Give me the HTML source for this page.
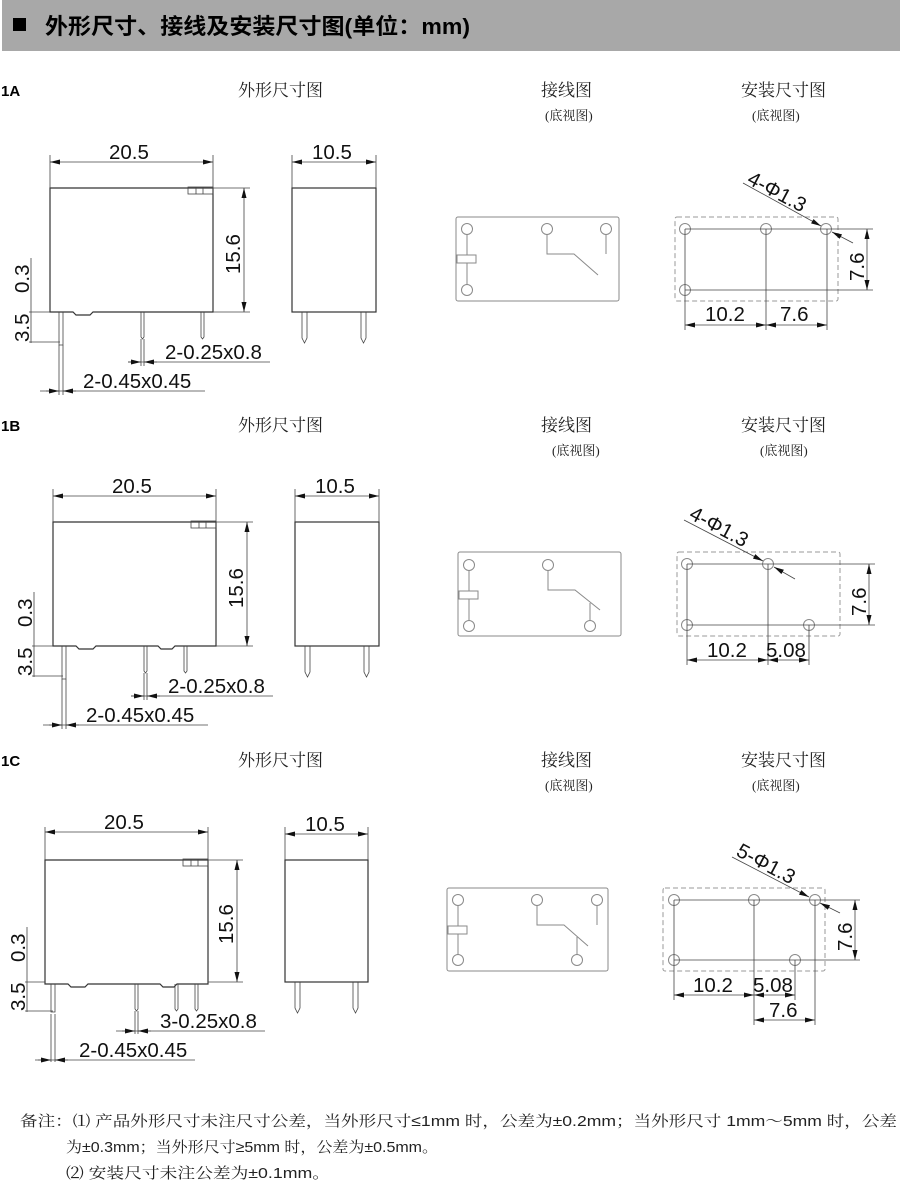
<!DOCTYPE html>
<html><head><meta charset="utf-8"><style>
html,body{margin:0;padding:0;background:#fff;}
svg{display:block;}
.d{font-family:"Liberation Sans",sans-serif;font-size:20.5px;fill:#111;}
.c{font-family:"Liberation Serif","Noto Serif CJK SC",serif;font-size:17px;fill:#222;}
.s{font-family:"Liberation Serif","Noto Serif CJK SC",serif;font-size:13px;fill:#222;}
.n{font-family:"Liberation Sans","Noto Serif CJK SC",serif;font-size:15px;fill:#222;}
.b{fill:none;stroke:#333;stroke-width:1.2;}
.l{fill:none;stroke:#444;stroke-width:0.8;}
.w{fill:none;stroke:#8a8a8a;stroke-width:1;}
.dash{fill:none;stroke:#999;stroke-width:1;stroke-dasharray:5,3;}
</style></head><body>
<svg width="900" height="1180" viewBox="0 0 900 1180" xmlns="http://www.w3.org/2000/svg">
<defs>
<marker id="a" markerUnits="userSpaceOnUse" markerWidth="10" markerHeight="6" refX="10" refY="3" orient="auto-start-reverse"><path d="M0,0.5 L10,3 L0,5.5 z" fill="#111"/></marker>
</defs>
<rect x="2" y="0" width="898" height="51" fill="#a8a8a8"/>
<rect x="13" y="18" width="13" height="13" fill="#000"/>
<text x="45" y="34" textLength="425" lengthAdjust="spacingAndGlyphs" style="font-family:'Liberation Sans','Noto Sans CJK SC',sans-serif;font-size:22px;font-weight:bold;fill:#000">外形尺寸、接线及安装尺寸图(单位：mm)</text>

<g style="font-family:'Liberation Sans',sans-serif;font-weight:bold;font-size:15px;fill:#000">
<text x="1" y="96">1A</text><text x="1" y="431">1B</text><text x="1" y="766">1C</text></g>
<g class="c">
<text x="238" y="96">外形尺寸图</text><text x="541" y="96">接线图</text><text x="741" y="96">安装尺寸图</text>
<text x="238" y="431">外形尺寸图</text><text x="541" y="431">接线图</text><text x="741" y="431">安装尺寸图</text>
<text x="238" y="766">外形尺寸图</text><text x="541" y="766">接线图</text><text x="741" y="766">安装尺寸图</text>
</g>
<g class="s">
<text x="545" y="120">(底视图)</text><text x="752" y="120">(底视图)</text>
<text x="552" y="455">(底视图)</text><text x="760" y="455">(底视图)</text>
<text x="545" y="790">(底视图)</text><text x="752" y="790">(底视图)</text>
</g>

<!-- ===== 1A outline ===== -->
<g>
<path class="b" d="M50,188 H213 V312 H93 L90,315 H76 L73,312 H50 Z"/>
<rect class="l" x="188" y="187" width="25" height="7"/><line class="l" x1="196" y1="187" x2="196" y2="194"/><line class="l" x1="203" y1="187" x2="203" y2="194"/>
<path class="l" d="M59,312 V345 H63 V312"/><line class="l" x1="59" y1="345" x2="59" y2="395"/><line class="l" x1="63" y1="345" x2="63" y2="395"/>
<path class="l" d="M141,312 V337 L142.5,339 L144,337 V312"/><line class="l" x1="141" y1="339" x2="141" y2="366"/><line class="l" x1="144" y1="339" x2="144" y2="366"/>
<path class="l" d="M201,312 V337 L202.5,339 L204,337 V312"/>
<line class="l" x1="50" y1="155" x2="50" y2="188"/><line class="l" x1="213" y1="155" x2="213" y2="188"/>
<line class="l" x1="50" y1="162" x2="213" y2="162" marker-start="url(#a)" marker-end="url(#a)"/>
<text class="d" x="109" y="159">20.5</text>
<line class="l" x1="213" y1="188" x2="250" y2="188"/><line class="l" x1="213" y1="312" x2="250" y2="312"/>
<line class="l" x1="244" y1="188" x2="244" y2="312" marker-start="url(#a)" marker-end="url(#a)"/>
<text class="d" transform="translate(240,274) rotate(-90)">15.6</text>
<line class="l" x1="31" y1="258" x2="31" y2="343"/><line class="l" x1="29" y1="312" x2="50" y2="312"/><line class="l" x1="29" y1="342" x2="60" y2="342"/>
<text class="d" transform="translate(29,293) rotate(-90)">0.3</text>
<text class="d" transform="translate(29,342) rotate(-90)">3.5</text>
<line class="l" x1="128" y1="362" x2="270" y2="362"/><line class="l" x1="128" y1="362" x2="141" y2="362" marker-end="url(#a)"/><line class="l" x1="157" y1="362" x2="144" y2="362" marker-end="url(#a)"/>
<text class="d" x="165" y="359">2-0.25x0.8</text>
<line class="l" x1="40" y1="391" x2="205" y2="391"/><line class="l" x1="46" y1="391" x2="59" y2="391" marker-end="url(#a)"/><line class="l" x1="76" y1="391" x2="63" y2="391" marker-end="url(#a)"/>
<text class="d" x="83" y="388">2-0.45x0.45</text>
<rect class="b" x="292" y="188" width="84" height="124"/>
<path class="l" d="M302,312 V338 L304.5,343 L307,338 V312"/><path class="l" d="M361,312 V338 L363.5,343 L366,338 V312"/>
<line class="l" x1="292" y1="155" x2="292" y2="188"/><line class="l" x1="376" y1="155" x2="376" y2="188"/>
<line class="l" x1="292" y1="162" x2="376" y2="162" marker-start="url(#a)" marker-end="url(#a)"/>
<text class="d" x="312" y="159">10.5</text>
</g>

<!-- ===== 1B outline ===== -->
<g transform="translate(3,334)">
<path class="b" d="M50,188 H213 V312 H172 L169,315 H158 L155,312 H93 L90,315 H76 L73,312 H50 Z"/>
<rect class="l" x="188" y="187" width="25" height="7"/><line class="l" x1="196" y1="187" x2="196" y2="194"/><line class="l" x1="203" y1="187" x2="203" y2="194"/>
<path class="l" d="M59,312 V345 H63 V312"/><line class="l" x1="59" y1="345" x2="59" y2="395"/><line class="l" x1="63" y1="345" x2="63" y2="395"/>
<path class="l" d="M141,312 V337 L142.5,339 L144,337 V312"/><line class="l" x1="141" y1="339" x2="141" y2="366"/><line class="l" x1="144" y1="339" x2="144" y2="366"/>
<path class="l" d="M181,312 V337 L182.5,339 L184,337 V312"/>
<line class="l" x1="50" y1="155" x2="50" y2="188"/><line class="l" x1="213" y1="155" x2="213" y2="188"/>
<line class="l" x1="50" y1="162" x2="213" y2="162" marker-start="url(#a)" marker-end="url(#a)"/>
<text class="d" x="109" y="159">20.5</text>
<line class="l" x1="213" y1="188" x2="250" y2="188"/><line class="l" x1="213" y1="312" x2="250" y2="312"/>
<line class="l" x1="244" y1="188" x2="244" y2="312" marker-start="url(#a)" marker-end="url(#a)"/>
<text class="d" transform="translate(240,274) rotate(-90)">15.6</text>
<line class="l" x1="31" y1="258" x2="31" y2="343"/><line class="l" x1="29" y1="312" x2="50" y2="312"/><line class="l" x1="29" y1="342" x2="60" y2="342"/>
<text class="d" transform="translate(29,293) rotate(-90)">0.3</text>
<text class="d" transform="translate(29,342) rotate(-90)">3.5</text>
<line class="l" x1="128" y1="362" x2="270" y2="362"/><line class="l" x1="128" y1="362" x2="141" y2="362" marker-end="url(#a)"/><line class="l" x1="157" y1="362" x2="144" y2="362" marker-end="url(#a)"/>
<text class="d" x="165" y="359">2-0.25x0.8</text>
<line class="l" x1="40" y1="391" x2="205" y2="391"/><line class="l" x1="46" y1="391" x2="59" y2="391" marker-end="url(#a)"/><line class="l" x1="76" y1="391" x2="63" y2="391" marker-end="url(#a)"/>
<text class="d" x="83" y="388">2-0.45x0.45</text>
<rect class="b" x="292" y="188" width="84" height="124"/>
<path class="l" d="M302,312 V338 L304.5,343 L307,338 V312"/><path class="l" d="M361,312 V338 L363.5,343 L366,338 V312"/>
<line class="l" x1="292" y1="155" x2="292" y2="188"/><line class="l" x1="376" y1="155" x2="376" y2="188"/>
<line class="l" x1="292" y1="162" x2="376" y2="162" marker-start="url(#a)" marker-end="url(#a)"/>
<text class="d" x="312" y="159">10.5</text>
</g>

<!-- ===== 1C outline ===== -->
<g transform="translate(-5,672)">
<path class="b" d="M50,188 H213 V312 H182 L179,315 H168 L165,312 H93 L90,315 H76 L73,312 H50 Z"/>
<rect class="l" x="188" y="187" width="25" height="7"/><line class="l" x1="196" y1="187" x2="196" y2="194"/><line class="l" x1="203" y1="187" x2="203" y2="194"/>
<path class="l" d="M56,312 V340 H60 V312"/><line class="l" x1="56" y1="342" x2="56" y2="390"/><line class="l" x1="60" y1="342" x2="60" y2="390"/>
<path class="l" d="M140,312 V337 L141.5,339 L143,337 V312"/><line class="l" x1="140" y1="339" x2="140" y2="362"/><line class="l" x1="143" y1="339" x2="143" y2="362"/>
<path class="l" d="M180,312 V337 L181.5,339 L183,337 V312"/>
<path class="l" d="M200,312 V337 L201.5,339 L203,337 V312"/>
<line class="l" x1="50" y1="155" x2="50" y2="188"/><line class="l" x1="213" y1="155" x2="213" y2="188"/>
<line class="l" x1="50" y1="160" x2="213" y2="160" marker-start="url(#a)" marker-end="url(#a)"/>
<text class="d" x="109" y="157">20.5</text>
<line class="l" x1="213" y1="188" x2="248" y2="188"/><line class="l" x1="213" y1="310" x2="248" y2="310"/>
<line class="l" x1="242" y1="188" x2="242" y2="310" marker-start="url(#a)" marker-end="url(#a)"/>
<text class="d" transform="translate(238,272) rotate(-90)">15.6</text>
<line class="l" x1="32" y1="255" x2="32" y2="340"/><line class="l" x1="30" y1="310" x2="50" y2="310"/><line class="l" x1="30" y1="339" x2="58" y2="339"/>
<text class="d" transform="translate(30,290) rotate(-90)">0.3</text>
<text class="d" transform="translate(30,339) rotate(-90)">3.5</text>
<line class="l" x1="121" y1="359" x2="270" y2="359"/><line class="l" x1="127" y1="359" x2="140" y2="359" marker-end="url(#a)"/><line class="l" x1="156" y1="359" x2="143" y2="359" marker-end="url(#a)"/>
<text class="d" x="165" y="356">3-0.25x0.8</text>
<line class="l" x1="40" y1="388" x2="200" y2="388"/><line class="l" x1="43" y1="388" x2="56" y2="388" marker-end="url(#a)"/><line class="l" x1="73" y1="388" x2="60" y2="388" marker-end="url(#a)"/>
<text class="d" x="84" y="385">2-0.45x0.45</text>
<rect class="b" x="290" y="188" width="83" height="122"/>
<path class="l" d="M300,310 V336 L302.5,341 L305,336 V310"/><path class="l" d="M358,310 V336 L360.5,341 L363,336 V310"/>
<line class="l" x1="290" y1="155" x2="290" y2="188"/><line class="l" x1="373" y1="155" x2="373" y2="188"/>
<line class="l" x1="290" y1="162" x2="373" y2="162" marker-start="url(#a)" marker-end="url(#a)"/>
<text class="d" x="310" y="159">10.5</text>
</g>

<!-- Wiring 1A -->
<g class="w">
<rect x="456" y="217" width="163" height="84" rx="2"/>
<circle cx="467" cy="229" r="5.5"/><circle cx="467" cy="290" r="5.5"/><circle cx="547" cy="229" r="5.5"/><circle cx="606" cy="229" r="5.5"/>
<line x1="467" y1="234.5" x2="467" y2="284.5"/><rect x="457" y="255" width="19" height="8" fill="#fff"/>
<path d="M547,234.5 V254 H574 L598,275"/><line x1="606" y1="234.5" x2="606" y2="254"/>
</g>
<!-- Wiring 1B -->
<g class="w">
<rect x="458" y="552" width="163" height="84" rx="2"/>
<circle cx="469" cy="565" r="5.5"/><circle cx="469" cy="626" r="5.5"/><circle cx="548" cy="565" r="5.5"/><circle cx="590" cy="626" r="5.5"/>
<line x1="469" y1="570.5" x2="469" y2="620.5"/><rect x="459" y="591" width="19" height="8" fill="#fff"/>
<path d="M548,570.5 V590 H575 L600,610"/><line x1="590" y1="603" x2="590" y2="620.5"/>
</g>
<!-- Wiring 1C -->
<g class="w">
<rect x="447" y="888" width="161" height="83" rx="2"/>
<circle cx="458" cy="900" r="5.5"/><circle cx="458" cy="960" r="5.5"/><circle cx="537" cy="900" r="5.5"/><circle cx="597" cy="900" r="5.5"/><circle cx="577" cy="960" r="5.5"/>
<line x1="458" y1="905.5" x2="458" y2="954.5"/><rect x="448" y="926" width="19" height="8" fill="#fff"/>
<path d="M537,905.5 V925 H564 L588,946"/><line x1="597" y1="905.5" x2="597" y2="925"/><line x1="577" y1="937" x2="577" y2="954.5"/>
</g>

<!-- Mount 1A -->
<rect class="dash" x="675" y="217" width="163" height="84" rx="2"/>
<g class="w"><circle cx="685" cy="229" r="5.5"/><circle cx="685" cy="290" r="5.5"/><circle cx="766" cy="229" r="5.5"/><circle cx="826" cy="229" r="5.5"/></g>
<g class="l">
<line x1="685" y1="229" x2="873" y2="229"/><line x1="685" y1="290" x2="873" y2="290"/>
<line x1="867" y1="229" x2="867" y2="290" marker-start="url(#a)" marker-end="url(#a)"/>
<line x1="685" y1="229" x2="685" y2="330"/><line x1="766" y1="229" x2="766" y2="330"/><line x1="827" y1="229" x2="827" y2="330"/>
<line x1="685" y1="325" x2="766" y2="325" marker-start="url(#a)" marker-end="url(#a)"/>
<line x1="766" y1="325" x2="827" y2="325" marker-start="url(#a)" marker-end="url(#a)"/>
<line x1="743" y1="183" x2="821" y2="226" marker-end="url(#a)"/><line x1="853" y1="243" x2="832" y2="232" marker-end="url(#a)"/>
</g>
<text class="d" transform="translate(864,281) rotate(-90)">7.6</text>
<text class="d" x="705" y="321">10.2</text><text class="d" x="780" y="321">7.6</text>
<text class="d" transform="translate(746,183) rotate(28)">4-Φ1.3</text>

<!-- Mount 1B -->
<rect class="dash" x="677" y="552" width="163" height="84" rx="2"/>
<g class="w"><circle cx="687" cy="564" r="5.5"/><circle cx="687" cy="625" r="5.5"/><circle cx="768" cy="564" r="5.5"/><circle cx="809" cy="625" r="5.5"/></g>
<g class="l">
<line x1="687" y1="564" x2="875" y2="564"/><line x1="687" y1="625" x2="875" y2="625"/>
<line x1="869" y1="564" x2="869" y2="625" marker-start="url(#a)" marker-end="url(#a)"/>
<line x1="687" y1="564" x2="687" y2="665"/><line x1="768" y1="564" x2="768" y2="665"/><line x1="809" y1="625" x2="809" y2="665"/>
<line x1="687" y1="660" x2="768" y2="660" marker-start="url(#a)" marker-end="url(#a)"/>
<line x1="768" y1="660" x2="809" y2="660" marker-start="url(#a)" marker-end="url(#a)"/>
<line x1="684" y1="520" x2="763" y2="561" marker-end="url(#a)"/><line x1="795" y1="579" x2="774" y2="567" marker-end="url(#a)"/>
</g>
<text class="d" transform="translate(866,616) rotate(-90)">7.6</text>
<text class="d" x="707" y="657">10.2</text><text class="d" x="766" y="657">5.08</text>
<text class="d" transform="translate(688,518) rotate(28)">4-Φ1.3</text>

<!-- Mount 1C -->
<rect class="dash" x="663" y="888" width="162" height="83" rx="2"/>
<g class="w"><circle cx="674" cy="900" r="5.5"/><circle cx="674" cy="960" r="5.5"/><circle cx="754" cy="900" r="5.5"/><circle cx="815" cy="900" r="5.5"/><circle cx="795" cy="960" r="5.5"/></g>
<g class="l">
<line x1="674" y1="900" x2="860" y2="900"/><line x1="674" y1="960" x2="860" y2="960"/>
<line x1="855" y1="900" x2="855" y2="960" marker-start="url(#a)" marker-end="url(#a)"/>
<line x1="674" y1="900" x2="674" y2="1000"/><line x1="754" y1="900" x2="754" y2="1025"/><line x1="795" y1="960" x2="795" y2="1000"/><line x1="815" y1="900" x2="815" y2="1025"/>
<line x1="674" y1="995" x2="754" y2="995" marker-start="url(#a)" marker-end="url(#a)"/>
<line x1="754" y1="995" x2="795" y2="995" marker-start="url(#a)" marker-end="url(#a)"/>
<line x1="754" y1="1020" x2="815" y2="1020" marker-start="url(#a)" marker-end="url(#a)"/>
<line x1="732" y1="857" x2="809" y2="897" marker-end="url(#a)"/><line x1="840" y1="913" x2="820" y2="903" marker-end="url(#a)"/>
</g>
<text class="d" transform="translate(852,951) rotate(-90)">7.6</text>
<text class="d" x="693" y="992">10.2</text><text class="d" x="753" y="992">5.08</text><text class="d" x="769" y="1017">7.6</text>
<text class="d" transform="translate(735,855) rotate(28)">5-Φ1.3</text>

<!-- notes -->
<text class="n" x="20" y="1126" textLength="877" lengthAdjust="spacingAndGlyphs">备注：⑴ 产品外形尺寸未注尺寸公差，当外形尺寸≤1mm 时，公差为±0.2mm；当外形尺寸 1mm～5mm 时，公差</text>
<text class="n" x="66" y="1152" textLength="372" lengthAdjust="spacingAndGlyphs">为±0.3mm；当外形尺寸≥5mm 时，公差为±0.5mm。</text>
<text class="n" x="66" y="1178" textLength="264" lengthAdjust="spacingAndGlyphs">⑵ 安装尺寸未注公差为±0.1mm。</text>
</svg>
</body></html>
